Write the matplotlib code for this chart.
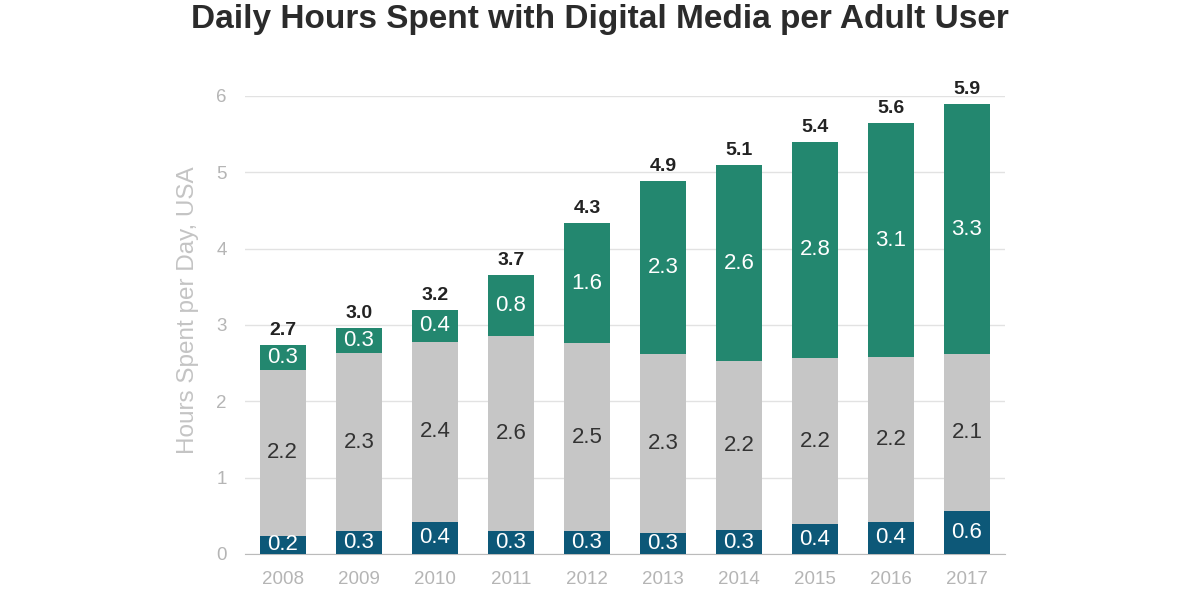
import matplotlib.pyplot as plt
import numpy as np

years = ["2008", "2009", "2010", "2011", "2012", "2013", "2014", "2015", "2016", "2017"]
# hours per day by segment, bottom to top
blue_hours = [0.24, 0.30, 0.42, 0.30, 0.30, 0.28, 0.31, 0.39, 0.42, 0.56]
gray_hours = [2.17, 2.33, 2.36, 2.56, 2.46, 2.34, 2.22, 2.18, 2.16, 2.06]
green_hours = [0.33, 0.33, 0.42, 0.80, 1.58, 2.26, 2.56, 2.83, 3.06, 3.27]

c_blue = "#0d5878"
c_gray = "#c6c6c6"
c_green = "#23876f"

plt.rcParams["font.family"] = ["Liberation Sans", "DejaVu Sans"]

fig = plt.figure(figsize=(12, 6), dpi=100)
ax = fig.add_axes([0.204, 0.0767, 0.6335, 0.7633])

x = np.arange(len(years))
blue = np.array(blue_hours)
gray = np.array(gray_hours)
green = np.array(green_hours)
w = 0.6

ax.bar(x, blue, w, color=c_blue, zorder=3)
ax.bar(x, gray, w, bottom=blue, color=c_gray, zorder=3)
ax.bar(x, green, w, bottom=blue + gray, color=c_green, zorder=3)

for i in range(len(years)):
    ax.text(x[i], blue[i] / 2, f"{blue[i]:.1f}", ha="center", va="center",
            color="white", fontsize=16, zorder=4)
    ax.text(x[i], blue[i] + gray[i] / 2, f"{gray[i]:.1f}", ha="center", va="center",
            color="#333333", fontsize=16, zorder=4)
    ax.text(x[i], blue[i] + gray[i] + green[i] / 2, f"{green[i]:.1f}", ha="center",
            va="center", color="white", fontsize=16, zorder=4)
    total = blue[i] + gray[i] + green[i]
    ax.text(x[i], total + 0.08, f"{total:.1f}", ha="center", va="bottom",
            color="#222222", fontsize=14, fontweight="bold", clip_on=False, zorder=4)

ax.set_xlim(-0.5, len(years) - 0.5)
ax.set_ylim(0, 6)
ax.set_xticks(x)
ax.set_xticklabels(years)
ax.set_yticks(range(7))
ax.tick_params(axis="both", length=0, colors="#b5b5b5", labelsize=13.5)
ax.tick_params(axis="x", pad=12)
ax.tick_params(axis="y", pad=13)
ax.yaxis.grid(True, color="#e2e2e2", linewidth=1, zorder=0)
for s in ["top", "right", "left"]:
    ax.spines[s].set_visible(False)
ax.spines["bottom"].set_color("#bbbbbb")
ax.set_ylabel("Hours Spent per Day, USA", color="#c4c4c4", fontsize=17.5)
ax.yaxis.set_label_coords(-0.06, 0.533)

fig.text(0.5, 1 - 28 / 600, "Daily Hours Spent with Digital Media per Adult User",
         ha="center", va="baseline", fontsize=24, fontweight="bold", color="#2b2b2b")

fig.savefig("out.png", dpi=100)
